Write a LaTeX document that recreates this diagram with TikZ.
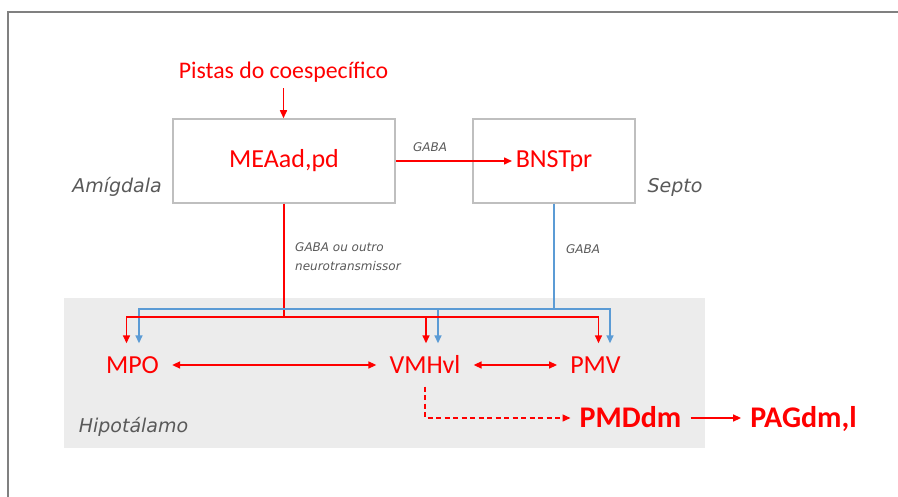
\documentclass[tikz,border=0pt]{standalone}
\usepackage{fontspec}
\setmainfont{Carlito}
\newfontfamily\labelfont{DejaVu Sans}
\usepackage{tikz}
\usetikzlibrary{arrows.meta}
\definecolor{gabablue}{RGB}{91,155,213}
\definecolor{labelgray}{RGB}{89,89,89}

\begin{document}
\begin{tikzpicture}[x=1pt, y=-1pt,
  nucleus/.style={text=red, font=\fontsize{26}{30}\selectfont, inner xsep=13pt, inner ysep=13pt, text height=17pt, text depth=0pt},
  output/.style={text=red, font=\fontsize{30}{34}\selectfont\bfseries, inner xsep=9pt, inner ysep=4pt, text height=20pt, text depth=0pt},
  area/.style={draw=black!25, line width=1.5pt, text=red, font=\fontsize{26}{30}\selectfont, minimum height=84pt},
  region/.style={text=labelgray, font=\labelfont\itshape\fontsize{19}{22}\selectfont, inner sep=0pt},
  transmitter/.style={text=labelgray, font=\labelfont\itshape\fontsize{12}{19}\selectfont, inner sep=0pt, align=left},
  redline/.style={draw=red, line width=1.5pt},
  blueline/.style={draw=gabablue, line width=1.5pt},
  redarrow/.style={redline, -{Triangle[length=8pt,width=7pt]}},
  bluearrow/.style={blueline, -{Triangle[length=8pt,width=7pt]}},
  biarrow/.style={redline, {Triangle[length=8pt,width=7pt]}-{Triangle[length=8pt,width=7pt]}}
]
\useasboundingbox (0,0) rectangle (898,497);

\fill[gray!15] (64,298) rectangle (705,448);
\draw[black!50, line width=2.5pt] (898,12) -- (8,12) -- (8,497);

\node[area, minimum width=222pt] (mea) at (284,161) {MEAad,pd};
\node[area, minimum width=162pt] (bnst) at (554,161) {BNSTpr};
\node[text=red, font=\fontsize{23.8}{27}\selectfont, inner xsep=0pt, inner ysep=6pt] (cues) at (283.5,72) {Pistas do coespecífico};

\node[region] (amygdala) at (117,187) {Amígdala};
\node[region] (septum) at (675,187) {Septo};
\node[region] (hypothalamus) at (133.5,427) {Hipotálamo};

\node[transmitter] (gabatop) at (430,147) {GABA};
\node[transmitter, anchor=west] (gabaother) at (295,257) {GABA ou outro\\neurotransmissor};
\node[transmitter] (gabaseptum) at (583,249) {GABA};

\node[nucleus] (mpo) at (132.5,365) {MPO};
\node[nucleus] (vmh) at (425,365) {VMHvl};
\node[nucleus] (pmv) at (595.5,365) {PMV};
\node[output] (pmd) at (630.5,418) {PMDdm};
\node[output] (pag) at (803.5,418) {PAGdm,l};

\coordinate (rj) at (mea.south |- 0,317);
\coordinate (bj) at (bnst.south |- 0,309);

\draw[redarrow] (cues.south) -- (cues.south |- mea.north);
\draw[redarrow] (mea.east) -- ([xshift=-42pt]bnst.center);

\draw[blueline] (bnst.south) -- (bj);
\draw[redline] (mea.south) -- (rj);
\foreach \n/\r/\b in {mpo/-6/6.5, vmh/1/13, pmv/3/14.5}
  \draw[bluearrow] (bj) -| ([xshift=\b pt]\n.north);
\foreach \n/\r/\b in {mpo/-6/6.5, vmh/1/13, pmv/3/14.5}
  \draw[redarrow] (rj) -| ([xshift=\r pt]\n.north);

\draw[biarrow] (mpo) -- (vmh);
\draw[biarrow] (vmh) -- (pmv);
\draw[redarrow, dash pattern=on 5pt off 3.5pt] (vmh.south) |- (pmd.west);
\draw[redarrow] (pmd) -- (pag);
\end{tikzpicture}
\end{document}
